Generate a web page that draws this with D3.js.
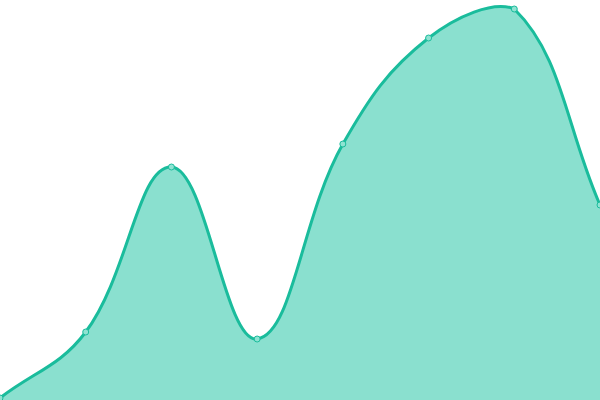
<!DOCTYPE html>
<html>
<head>
<meta charset="utf-8">
<script src="https://cdn.jsdelivr.net/npm/d3@7"></script>
<style>
  html, body { margin: 0; padding: 0; background: #fff; overflow: hidden; }
</style>
</head>
<body>
<div id="chart"></div>
<script>
// Data (index -> value, value axis 0..400)
const categories = [0, 1, 2, 3, 4, 5, 6, 7];
const values = [2, 68, 233, 61, 256, 362, 391, 195];

const width = 600;
const height = 400;
const tension = 0.4;

const svg = d3.select("#chart")
    .append("svg")
    .attr("width", width)
    .attr("height", height);

const data = categories.map((c, i) => ({x: c, y: values[i]}));

const x = d3.scaleLinear()
    .domain(d3.extent(categories))
    .range([0, width]);

const y = d3.scaleLinear()
    .domain([0, 400])
    .range([height, 0]);

// spline with distance-weighted control points, capped to the plot box
function splineCurve(context) {
    return {
        areaStart() { this._line = 0; },
        areaEnd() { this._line = NaN; },
        lineStart() { this._px = []; this._py = []; },
        point(px, py) { this._px.push(+px); this._py.push(+py); },
        lineEnd() {
            const px = this._px, py = this._py, n = px.length;
            if (n) {
                const cap = (v, hi) => Math.max(0, Math.min(hi, v));
                const cp = px.map((cx, i) => {
                    const a = i > 0 ? i - 1 : i, b = i < n - 1 ? i + 1 : i;
                    const d01 = Math.hypot(cx - px[a], py[i] - py[a]);
                    const d12 = Math.hypot(px[b] - cx, py[b] - py[i]);
                    let s01 = d01 / (d01 + d12), s12 = d12 / (d01 + d12);
                    if (isNaN(s01)) s01 = 0;
                    if (isNaN(s12)) s12 = 0;
                    const fa = tension * s01, fb = tension * s12;
                    const dx = px[b] - px[a], dy = py[b] - py[a];
                    return {
                        px: cap(cx - fa * dx, width), py: cap(py[i] - fa * dy, height),
                        nx: cap(cx + fb * dx, width), ny: cap(py[i] + fb * dy, height)
                    };
                });
                if (this._line) context.lineTo(px[0], py[0]);
                else context.moveTo(px[0], py[0]);
                for (let i = 1; i < n; i++) {
                    context.bezierCurveTo(cp[i - 1].nx, cp[i - 1].ny, cp[i].px, cp[i].py, px[i], py[i]);
                }
            }
            if (this._line || (this._line !== 0 && n === 1)) context.closePath();
            this._line = 1 - this._line;
        }
    };
}

// Area fill
svg.append("path")
    .datum(data)
    .attr("fill", "#8ae0cf")
    .attr("d", d3.area()
        .x(d => x(d.x))
        .y0(height)
        .y1(d => y(d.y))
        .curve(splineCurve));

// Line
svg.append("path")
    .datum(data)
    .attr("fill", "none")
    .attr("stroke", "#1abc9c")
    .attr("stroke-width", 3)
    .attr("d", d3.line()
        .x(d => x(d.x))
        .y(d => y(d.y))
        .curve(splineCurve));

// Points
svg.selectAll("circle")
    .data(data)
    .join("circle")
    .attr("cx", d => x(d.x))
    .attr("cy", d => y(d.y))
    .attr("r", 3)
    .attr("fill", "#8fe3d2")
    .attr("stroke", "#1abc9c")
    .attr("stroke-width", 1);
</script>
</body>
</html>
